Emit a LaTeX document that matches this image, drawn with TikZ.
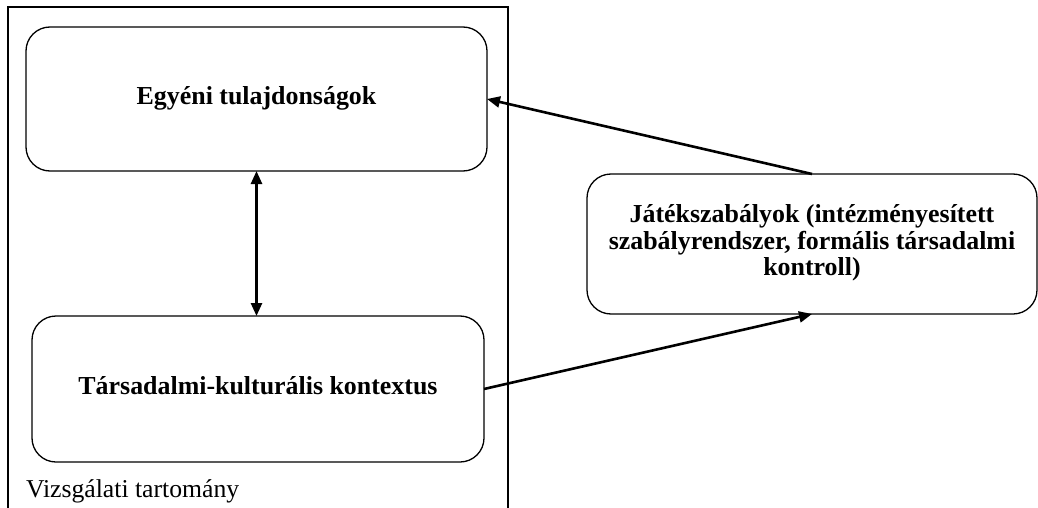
\documentclass[tikz,border=0pt]{standalone}
\usepackage{fontspec}
\setmainfont{Liberation Serif}
\usetikzlibrary{arrows.meta}
% box text sits a little below the geometric centre of each box
\newcommand{\boxtext}[1]{\raisebox{-4pt}{\begin{tabular}{@{}c@{}}#1\end{tabular}}}
\begin{document}
\begin{tikzpicture}[x=1pt,y=-1pt,
  every node/.style={inner sep=0pt, outer sep=0pt},
  roundbox/.style={draw, line width=1.3pt, rounded corners=24pt, align=center,
    font=\fontsize{25.9}{26.6}\selectfont\bfseries},
  link/.style={line width=2.6pt, -{Triangle[length=13pt,width=11pt]}},
  twoway/.style={line width=2.6pt, {Triangle[length=13pt,width=11pt]}-{Triangle[length=13pt,width=11pt]}}]
  \useasboundingbox (0,0) rectangle (1038,508);
  % study domain frame, open at the bottom
  \draw[line width=1.3pt] (8,520) -- (8,7) -- (508,7) -- (508,520);
  \node[roundbox, minimum width=461pt, minimum height=144pt] (indiv) at (256.5,99)
    {\boxtext{Egyéni tulajdonságok}};
  \node[roundbox, minimum width=452pt, minimum height=146pt] (context) at (258,389)
    {\boxtext{Társadalmi-kulturális kontextus}};
  \node[roundbox, minimum width=450pt, minimum height=140pt] (rules) at (812,244)
    {\boxtext{Játékszabályok (intézményesített\\szabályrendszer, formális társadalmi\\kontroll)}};
  \node[anchor=base west, font=\fontsize{25.7}{27}\selectfont] (domain) at (26,497) {Vizsgálati tartomány};
  \draw[twoway] (indiv.south) -- (indiv.south |- context.north);
  \draw[link] (rules.north) -- (indiv.east);
  \draw[link] (context.east) -- (rules.south);
\end{tikzpicture}
\end{document}
